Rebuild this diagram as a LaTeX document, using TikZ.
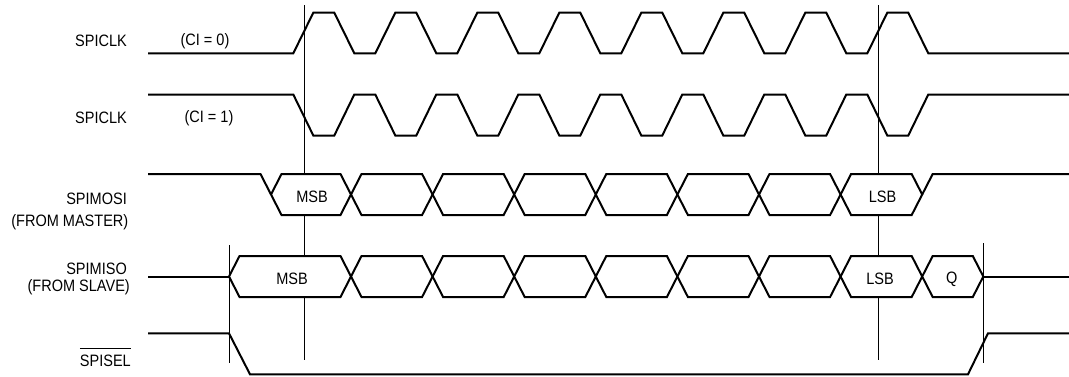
\documentclass[tikz,border=0pt]{standalone}
\usepackage{fontspec}
\setmainfont{Liberation Sans}[FakeStretch=0.88]
\begin{document}
\begin{tikzpicture}[x=1pt,y=-1pt,
  wave/.style={line width=2pt, line join=miter},
  marker/.style={line width=0.9pt},
  cell/.style={line width=2pt, line join=miter, fill=white},
  lbl/.style={font=\fontsize{16.5}{19}\selectfont, inner sep=0pt, anchor=east},
  dat/.style={font=\fontsize{16.5}{19}\selectfont, inner sep=0pt}]
\useasboundingbox[fill=white] (0,0) rectangle (1069,376);

% timing reference lines
\draw[marker] (304,5) -- (304,360);
\draw[marker] (878,5) -- (878,360);
\draw[marker] (229,245) -- (229,363);
\draw[marker] (983,243) -- (983,363);

% SPICLK CI=0
\draw[wave] (148,53.3) foreach \k in {0,...,7} {
  -- ({293.3+82*\k},53.3) -- ({313.3+82*\k},12.7) -- ({334.3+82*\k},12.7) -- ({354.3+82*\k},53.3)}
  -- (1069,53.3);
% SPICLK CI=1
\draw[wave] (148,94.5) foreach \k in {0,...,7} {
  -- ({293.3+82*\k},94.5) -- ({313.3+82*\k},135.5) -- ({334.3+82*\k},135.5) -- ({354.3+82*\k},94.5)}
  -- (1069,94.5);

% SPIMOSI
\def\T{174}\def\B{215}\def\M{194.5}
\draw[wave] (148,\T) -- (260.5,\T) -- (271,\M);
\draw[cell] (271,\M) -- (281.5,\T) -- (340.5,\T) -- (351,\M) -- (340.5,\B) -- (281.5,\B) -- cycle;
\foreach \k in {0,...,6} {
  \draw[cell] ({351+81.6*\k},\M) -- ({361.5+81.6*\k},\T) -- ({422.1+81.6*\k},\T) -- ({432.6+81.6*\k},\M)
    -- ({422.1+81.6*\k},\B) -- ({361.5+81.6*\k},\B) -- cycle;
}
\draw[wave] (922.2,\M) -- (932.7,\T) -- (1069,\T);

% SPIMISO
\def\T{256}\def\B{297}\def\M{276.5}
\draw[wave] (148,\M) -- (229,\M);
\draw[cell] (229,\M) -- (239.5,\T) -- (340.5,\T) -- (351,\M) -- (340.5,\B) -- (239.5,\B) -- cycle;
\foreach \k in {0,...,6} {
  \draw[cell] ({351+81.6*\k},\M) -- ({361.5+81.6*\k},\T) -- ({422.1+81.6*\k},\T) -- ({432.6+81.6*\k},\M)
    -- ({422.1+81.6*\k},\B) -- ({361.5+81.6*\k},\B) -- cycle;
}
\draw[cell] (922.2,\M) -- (932.7,\T) -- (972.8,\T) -- (983.3,\M) -- (972.8,\B) -- (932.7,\B) -- cycle;
\draw[wave] (983.3,\M) -- (1069,\M);

% SPISEL
\draw[wave] (148,333.3) -- (229,333.3) -- (250,374.3) -- (968,374.3) -- (988,333.3) -- (1069,333.3);

% labels
\node[lbl] (clk0) at (127,40.7) {SPICLK};
\node[dat] (ci0) at (205,41.5) {(CI = 0)};
\node[lbl] (clk1) at (127,118) {SPICLK};
\node[dat] (ci1) at (209,118) {(CI = 1)};
\node[lbl] (mosi) at (127,198.8) {SPIMOSI};
\node[lbl] (mosi2) at (128.5,222.5) {(FROM MASTER)};
\node[lbl] (miso) at (127,269.3) {SPIMISO};
\node[lbl] (miso2) at (130,287.5) {(FROM SLAVE)};
\node[lbl] (sel) at (131,360.7) {SPISEL};
\draw[line width=0.9pt] ([yshift=6pt]sel.north west) -- ([yshift=6pt]sel.north east);

\node[dat] (msb1) at (312,196.7) {MSB};
\node[dat] (lsb1) at (882.5,196.7) {LSB};
\node[dat] (msb2) at (292,279.3) {MSB};
\node[dat] (lsb2) at (880,279) {LSB};
\node[dat] (q) at (951.7,279) {Q};
\end{tikzpicture}
\end{document}
